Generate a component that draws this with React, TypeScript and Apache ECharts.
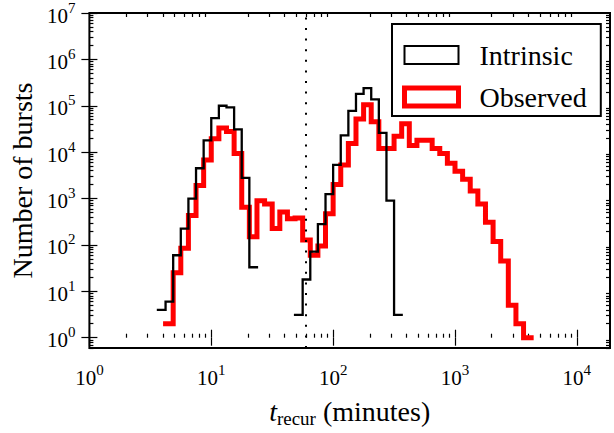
import React, { useEffect, useRef } from "react";
import * as echarts from "echarts";

// Histogram bins are uniform in log10(t): 16 bins per decade, bin k spans [10^(k/16), 10^((k+1)/16)] minutes
const BINS_PER_DECADE = 16;

// Intrinsic recurrence times (two separated groups of bins)
const intrinsicLowFirstBin = 9;
const intrinsicLow = [4, 6, 60, 225, 1000, 4500, 18000, 54000, 100000, 92000, 31000, 2800, 33];
const intrinsicHighFirstBin = 27;
const intrinsicHigh = [3.1, 18, 72, 280, 1240, 5300, 23000, 78000, 180000, 240000, 137000, 26000, 900, 3.1];

// Observed recurrence times
const observedFirstBin = 10;
const observed = [
  2, 25, 85, 430, 1900, 6800, 19500, 33000, 28000, 9400,
  650, 150, 900, 760, 225, 510, 365, 380, 128, 60,
  95, 470, 2000, 5300, 15400, 52000, 105000, 45000, 12000, 12000,
  22000, 41000, 14000, 18000, 18000, 12000, 9400, 5800, 3900, 2600,
  1450, 760, 310, 118, 45, 5, 2, 1,
];

const cutoffMinutes = 60;

const X_MIN = 1;
const X_MAX = 18700;
const Y_MIN = 0.6;
const Y_MAX = 1e7;

const xTickExponents = [0, 1, 2, 3, 4];
const yTickExponents = [0, 1, 2, 3, 4, 5, 6, 7];

const FONT = "Liberation Serif";

function stepPoints(firstBin: number, counts: number[]) {
  const pts: number[][] = [];
  counts.forEach((c, i) => {
    const k = firstBin + i;
    pts.push([Math.pow(10, k / BINS_PER_DECADE), c]);
    pts.push([Math.pow(10, (k + 1) / BINS_PER_DECADE), c]);
  });
  return pts;
}

function minorTicks(lo: number, hi: number) {
  const out: number[] = [];
  for (let n = Math.floor(lo) - 1; n <= Math.ceil(hi); n++) {
    for (let m = 2; m <= 9; m++) {
      const v = n + Math.log10(m);
      if (v >= lo && v <= hi) out.push(v);
    }
  }
  return out;
}

export default function App() {
  const ref = useRef<HTMLDivElement>(null);

  useEffect(() => {
    if (!ref.current) return;
    const chart = echarts.init(ref.current, null, { renderer: "svg" });

    const lx0 = Math.log10(X_MIN);
    const lx1 = Math.log10(X_MAX);
    const ly0 = Math.log10(Y_MIN);
    const ly1 = Math.log10(Y_MAX);
    const xMinor = minorTicks(lx0, lx1);
    const yMinor = minorTicks(ly0, ly1);

    const tickLine = { color: "#000", width: 1.2 };
    const labelRich = {
      b: { fontFamily: FONT, fontSize: 21, color: "#000", lineHeight: 26, verticalAlign: "bottom" },
      s: { fontFamily: FONT, fontSize: 15, color: "#000", lineHeight: 12, verticalAlign: "top" },
    };
    const powFmt = (v: number) => `{b|10}{s|${Math.round(v)}}`;

    const deco = (pos: string, isX: boolean, major: boolean, withLabel: boolean, extra: any = {}) => ({
      type: "value",
      min: isX ? lx0 : ly0,
      max: isX ? lx1 : ly1,
      position: pos,
      axisLine: { show: false },
      splitLine: { show: false },
      axisTick: {
        show: true,
        inside: true,
        length: major ? 8 : 4,
        lineStyle: tickLine,
        customValues: major ? (isX ? xTickExponents : yTickExponents) : isX ? xMinor : yMinor,
      },
      axisLabel: withLabel
        ? {
            show: true,
            customValues: isX ? xTickExponents : yTickExponents,
            formatter: powFmt,
            rich: labelRich,
            margin: 14,
          }
        : { show: false },
      ...extra,
    });

    const option: any = {
      animation: false,
      backgroundColor: "#fff",
      textStyle: { fontFamily: FONT },
      grid: {
        left: 89,
        top: 12,
        right: 4,
        bottom: 80,
        show: true,
        borderColor: "#000",
        borderWidth: 2,
        backgroundColor: "transparent",
      },
      legend: {
        orient: "vertical",
        left: 392,
        top: 24,
        selectedMode: false,
        itemWidth: 54,
        itemHeight: 18,
        itemGap: 12,
        padding: [16, 14, 4, 10],
        borderColor: "#000",
        borderWidth: 2,
        borderRadius: 0,
        backgroundColor: "#fff",
        textStyle: {
          fontFamily: FONT,
          fontSize: 28,
          lineHeight: 30,
          color: "#000",
          padding: [0, 0, 0, 16],
        },
        data: [
          {
            name: "Intrinsic",
            icon: "rect",
            itemStyle: { color: "rgba(0,0,0,0)", borderColor: "#000", borderWidth: 2 },
          },
          {
            name: "Observed",
            icon: "rect",
            itemStyle: { color: "rgba(0,0,0,0)", borderColor: "#ff0000", borderWidth: 5 },
          },
        ],
      },
      xAxis: [
        { type: "log", logBase: 10, min: X_MIN, max: X_MAX, show: false, splitLine: { show: false } },
        deco("bottom", true, true, true, {
          name: "{t|t}{sub|recur}{n| (minutes)}",
          nameLocation: "middle",
          nameGap: 46,
          nameTextStyle: {
            rich: {
              t: { fontFamily: FONT, fontStyle: "italic", fontSize: 28, lineHeight: 34, color: "#000" },
              sub: { fontFamily: FONT, fontSize: 19, lineHeight: 19, verticalAlign: "bottom", color: "#000" },
              n: { fontFamily: FONT, fontSize: 28, lineHeight: 34, color: "#000" },
            },
          },
        }),
        deco("bottom", true, false, false),
        deco("top", true, true, false),
        deco("top", true, false, false),
      ],
      yAxis: [
        { type: "log", logBase: 10, min: Y_MIN, max: Y_MAX, show: false, splitLine: { show: false } },
        deco("left", false, true, true, {
          name: "Number of bursts",
          nameLocation: "middle",
          nameGap: 52,
          nameTextStyle: { fontFamily: FONT, fontSize: 28, color: "#000" },
        }),
        deco("left", false, false, false),
        deco("right", false, true, false),
        deco("right", false, false, false),
      ],
      series: [
        {
          name: "Observed",
          type: "line",
          xAxisIndex: 0,
          yAxisIndex: 0,
          data: stepPoints(observedFirstBin, observed),
          showSymbol: false,
          symbol: "none",
          lineStyle: { color: "#ff0000", width: 5, join: "miter", cap: "square" },
          itemStyle: { color: "#ff0000" },
          markLine: {
            silent: true,
            symbol: ["none", "none"],
            label: { show: false },
            lineStyle: { color: "#000", width: 2, type: [2, 8.6] },
            data: [{ xAxis: cutoffMinutes }],
          },
        },
        {
          name: "Intrinsic",
          type: "line",
          xAxisIndex: 0,
          yAxisIndex: 0,
          data: stepPoints(intrinsicLowFirstBin, intrinsicLow),
          showSymbol: false,
          symbol: "none",
          lineStyle: { color: "#000", width: 2.3, join: "miter", cap: "square" },
          itemStyle: { color: "#000" },
        },
        {
          name: "Intrinsic",
          type: "line",
          xAxisIndex: 0,
          yAxisIndex: 0,
          data: stepPoints(intrinsicHighFirstBin, intrinsicHigh),
          showSymbol: false,
          symbol: "none",
          lineStyle: { color: "#000", width: 2.3, join: "miter", cap: "square" },
          itemStyle: { color: "#000" },
        },
      ],
    };

    chart.setOption(option);
    return () => chart.dispose();
  }, []);

  return (
    <div
      ref={ref}
      style={{ position: "fixed", left: 0, top: 0, width: 614, height: 433, background: "#fff" }}
    />
  );
}
